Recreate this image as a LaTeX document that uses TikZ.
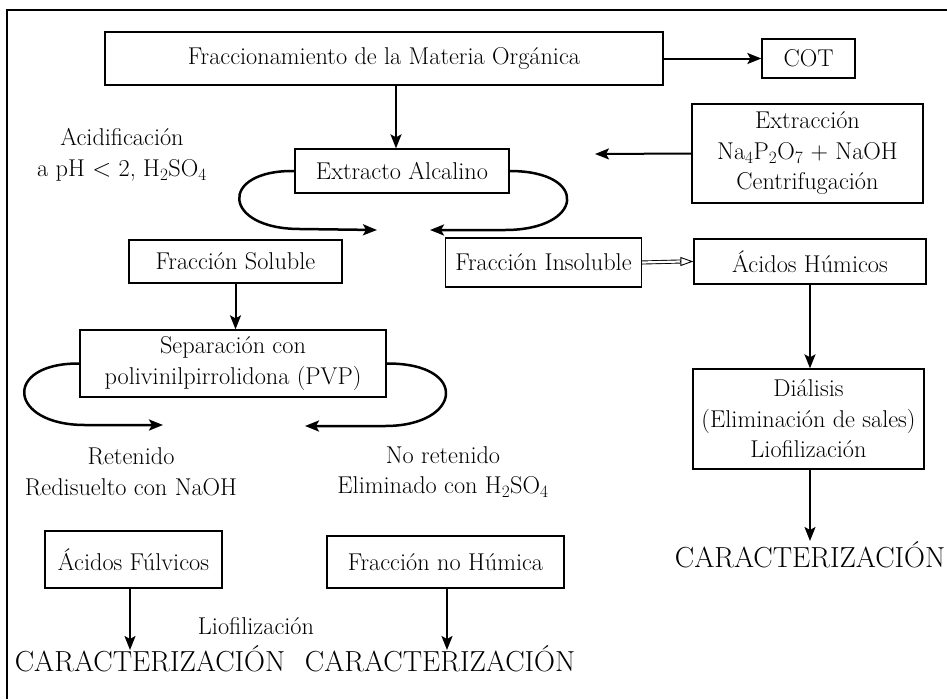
\documentclass[tikz,border=0pt]{standalone}
\usepackage{fontspec}
\usetikzlibrary{arrows.meta,calc}
\begin{document}
\begin{tikzpicture}[x=1pt,y=-1pt,
  every node/.style={font=\fontsize{24.3}{30.5}\selectfont},
  box/.style={draw, line width=1.3pt, inner sep=0pt, align=center},
  lbl/.style={inner sep=0pt, align=center},
  bigcap/.style={inner sep=0pt, font=\fontsize{29}{30}\selectfont},
  arr/.style={line width=2pt, -{Stealth[length=14pt,width=11pt,inset=3pt]}},
  crv/.style={line width=2.5pt, -{Stealth[length=14pt,width=11pt,inset=3pt]}}
]
\useasboundingbox (0,0) rectangle (947,699);
% frame
\draw[line width=1.4pt] (7,699) -- (7,10) -- (947,10);

% boxes
\node[box, minimum width=558pt, minimum height=53pt] (frac) at (384,58.5) {Fraccionamiento de la Materia Orgánica};
\node[box, minimum width=93pt, minimum height=39pt] (cot) at (808.5,58.5) {COT};
\node[box, minimum width=214pt, minimum height=44pt] (ext) at (402,171) {Extracto Alcalino};
\node[box, minimum width=231pt, minimum height=99pt] (extr) at (807.5,153.5) {Extracción\\Na$_4$P$_2$O$_7$ + NaOH\\Centrifugación};
\node[box, minimum width=213pt, minimum height=43pt] (sol) at (235.5,261.5) {Fracción Soluble};
\node[box, minimum width=196pt, minimum height=49pt] (ins) at (543.5,262.5) {Fracción Insoluble};
\node[box, minimum width=232pt, minimum height=45pt] (hum) at (810,261.5) {Ácidos Húmicos};
\node[box, minimum width=231pt, minimum height=100pt] (dia) at (808.5,419) {Diálisis\\(Eliminación de sales)\\Liofilización};
\node[box, minimum width=306pt, minimum height=67pt] (sep) at (233,363.5) {Separación con\\polivinilpirrolidona (PVP)};
\node[box, minimum width=177pt, minimum height=57pt] (ful) at (133.5,559.5) {Ácidos Fúlvicos};
\node[box, minimum width=237pt, minimum height=52pt] (noh) at (445.5,562) {Fracción no Húmica};

% labels
\node[lbl] (acid) at (122,155) {Acidificación\\a pH $<$ 2, H$_2$SO$_4$};
\node[lbl] (ret) at (131,472) {Retenido\\Redisuelto con NaOH};
\node[lbl] (nret) at (443,472) {No retenido\\Eliminado con H$_2$SO$_4$};
\node[lbl] (liof) at (256,626) {Liofilización};
\node[bigcap] (car1) at (150,659) {CARACTERIZACIÓN};
\node[bigcap] (car2) at (440,659) {CARACTERIZACIÓN};
\node[bigcap] (car3) at (810,555) {CARACTERIZACIÓN};

% free ends
\coordinate (extend) at (595,154);
\coordinate (l1) at (377,230);
\coordinate (r1) at (430,230);
\coordinate (l2) at (163,425);
\coordinate (r2) at (305,426);
\coordinate (c3) at (810,541);
\coordinate (c1) at (130,650);
\coordinate (c2) at (447,650);

% connectors
\draw[arr] (frac.east) -- (cot.west);
\draw[arr] ([xshift=12pt]frac.south) -- ([xshift=12pt]frac.south |- ext.north);
\draw[arr] (extr.west) -- (extend);
\draw[crv] (ext.west) .. controls (218,170) and (222,229) .. (300,229) -- (l1);
\draw[crv] (ext.east) .. controls (590,171) and (584,230) .. (505,230) -- (r1);
\draw[arr] (sol.south) -- (sol.south |- sep.north);
\draw[crv] (sep.west) .. controls (2,363) and (8,425) .. (85,425) -- (l2);
\draw[crv] (sep.east) .. controls (470,363) and (462,426) .. (385,426) -- (r2);
\draw[line width=0.9pt, double distance=2.2pt] (ins.east) -- ([xshift=-13pt]hum.west);
\draw[line width=0.9pt, -{Triangle[open,length=13pt,width=9pt]}] ([xshift=-13pt]hum.west) -- (hum.west);
\draw[arr] (hum.south) -- (hum.south |- dia.north);
\draw[arr] (c3 |- dia.south) -- (c3);
\draw[arr] (c1 |- ful.south) -- (c1);
\draw[arr] (c2 |- noh.south) -- (c2);
\end{tikzpicture}
\end{document}
